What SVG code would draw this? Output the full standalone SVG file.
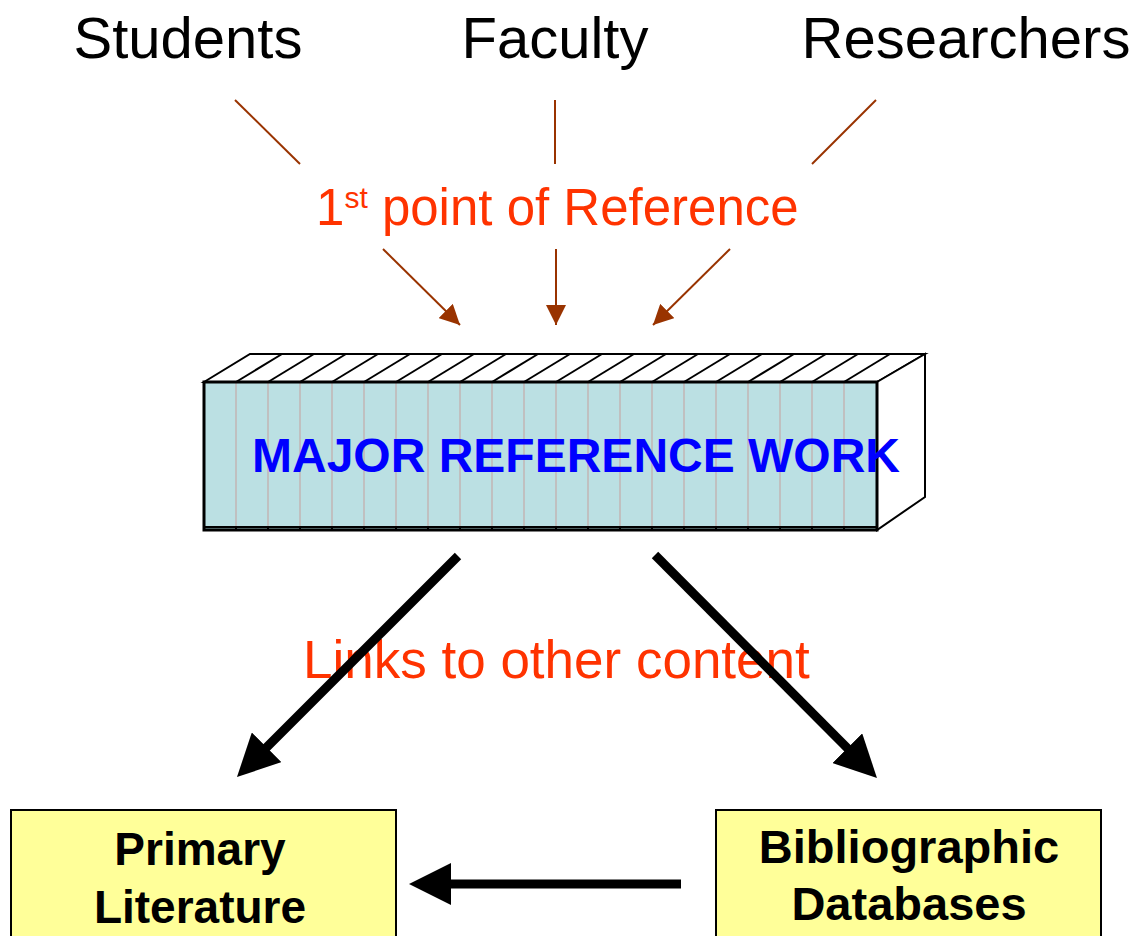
<svg xmlns="http://www.w3.org/2000/svg" width="1134" height="936" viewBox="0 0 1134 936">
<style>
.top{font-family:"Liberation Sans",Arial,sans-serif;font-size:58px;fill:#000;text-anchor:middle}
.red{font-family:"Liberation Sans",Arial,sans-serif;fill:#FF3300}
.box{fill:#FFFF99;stroke:#000;stroke-width:2}
.boxt{font-family:"Liberation Sans",Arial,sans-serif;font-weight:bold;fill:#000;text-anchor:middle}
.brown{stroke:#993300;stroke-width:2;fill:none}
.black{stroke:#000;stroke-width:9;fill:none}
.spine{stroke:#C0C0C0;stroke-width:2}
.diag{stroke:#000;stroke-width:2}
</style>
<defs>
<marker id="bh" viewBox="0 0 20 20" refX="20" refY="10" markerWidth="20" markerHeight="20" markerUnits="userSpaceOnUse" orient="auto">
<path d="M0,0 L20,10 L0,20 z" fill="#993300"/>
</marker>
<marker id="kh" viewBox="0 0 42 42" refX="12" refY="21" markerWidth="42" markerHeight="42" markerUnits="userSpaceOnUse" orient="auto">
<path d="M0,0 L42,21 L0,42 z" fill="#000"/>
</marker>
</defs>
<rect width="1134" height="936" fill="#fff"/>

<g id="students"><text class="top" x="188" y="58">Students</text></g>
<g id="faculty"><text class="top" x="555" y="58">Faculty</text></g>
<g id="researchers"><text class="top" x="966" y="58">Researchers</text></g>

<g id="first-point">
<text class="red" x="316" y="225" font-size="51">1<tspan font-size="30" dy="-17">st</tspan><tspan dy="17"> point of Reference</tspan></text>
</g>

<g id="major-reference-work">
<polygon points="204,382 250,354 925,354 877,382" fill="#fff" stroke="#000" stroke-width="2"/>
<polygon points="877,382 925,354 925,497 877,530" fill="#fff" stroke="#000" stroke-width="2"/>
<rect x="204" y="382" width="673" height="148" fill="#BBE0E3"/>
<rect x="204" y="527" width="673" height="3" fill="#8FB5B8"/>
<g class="spine">
<line x1="236" y1="382" x2="236" y2="527"/><line x1="268" y1="382" x2="268" y2="527"/><line x1="300" y1="382" x2="300" y2="527"/><line x1="332" y1="382" x2="332" y2="527"/><line x1="364" y1="382" x2="364" y2="527"/><line x1="396" y1="382" x2="396" y2="527"/><line x1="428" y1="382" x2="428" y2="527"/><line x1="460" y1="382" x2="460" y2="527"/><line x1="492" y1="382" x2="492" y2="527"/><line x1="524" y1="382" x2="524" y2="527"/><line x1="556" y1="382" x2="556" y2="527"/><line x1="588" y1="382" x2="588" y2="527"/><line x1="620" y1="382" x2="620" y2="527"/><line x1="652" y1="382" x2="652" y2="527"/><line x1="684" y1="382" x2="684" y2="527"/><line x1="716" y1="382" x2="716" y2="527"/><line x1="748" y1="382" x2="748" y2="527"/><line x1="780" y1="382" x2="780" y2="527"/><line x1="812" y1="382" x2="812" y2="527"/><line x1="844" y1="382" x2="844" y2="527"/>
</g>
<g class="diag">
<line x1="236" y1="382" x2="282" y2="354"/><line x1="268" y1="382" x2="314" y2="354"/><line x1="300" y1="382" x2="346" y2="354"/><line x1="332" y1="382" x2="378" y2="354"/><line x1="364" y1="382" x2="410" y2="354"/><line x1="396" y1="382" x2="442" y2="354"/><line x1="428" y1="382" x2="474" y2="354"/><line x1="460" y1="382" x2="506" y2="354"/><line x1="492" y1="382" x2="538" y2="354"/><line x1="524" y1="382" x2="570" y2="354"/><line x1="556" y1="382" x2="602" y2="354"/><line x1="588" y1="382" x2="634" y2="354"/><line x1="620" y1="382" x2="666" y2="354"/><line x1="652" y1="382" x2="698" y2="354"/><line x1="684" y1="382" x2="730" y2="354"/><line x1="716" y1="382" x2="762" y2="354"/><line x1="748" y1="382" x2="794" y2="354"/><line x1="780" y1="382" x2="826" y2="354"/><line x1="812" y1="382" x2="858" y2="354"/><line x1="844" y1="382" x2="890" y2="354"/>
</g>
<g stroke="#000" stroke-width="2">
<line x1="236" y1="527" x2="236" y2="530"/><line x1="268" y1="527" x2="268" y2="530"/><line x1="300" y1="527" x2="300" y2="530"/><line x1="332" y1="527" x2="332" y2="530"/><line x1="364" y1="527" x2="364" y2="530"/><line x1="396" y1="527" x2="396" y2="530"/><line x1="428" y1="527" x2="428" y2="530"/><line x1="460" y1="527" x2="460" y2="530"/><line x1="492" y1="527" x2="492" y2="530"/><line x1="524" y1="527" x2="524" y2="530"/><line x1="556" y1="527" x2="556" y2="530"/><line x1="588" y1="527" x2="588" y2="530"/><line x1="620" y1="527" x2="620" y2="530"/><line x1="652" y1="527" x2="652" y2="530"/><line x1="684" y1="527" x2="684" y2="530"/><line x1="716" y1="527" x2="716" y2="530"/><line x1="748" y1="527" x2="748" y2="530"/><line x1="780" y1="527" x2="780" y2="530"/><line x1="812" y1="527" x2="812" y2="530"/><line x1="844" y1="527" x2="844" y2="530"/>
</g>
<line x1="204" y1="527" x2="877" y2="527" stroke="#000" stroke-width="2"/>
<rect x="204" y="382" width="673" height="148" fill="none" stroke="#000" stroke-width="3"/>
<text x="252" y="472" font-family="Liberation Sans, Arial, sans-serif" font-weight="bold" font-size="48" fill="#0000FF">MAJOR REFERENCE WORK</text>
</g>

<g id="links-label">
<text class="red" x="303" y="678" font-size="53">Links to other content</text>
</g>

<g id="primary-literature">
<rect class="box" x="11" y="810" width="385" height="140"/>
<text class="boxt" x="200" y="865" font-size="46">Primary</text>
<text class="boxt" x="200" y="923" font-size="46">Literature</text>
</g>

<g id="bibliographic-databases">
<rect class="box" x="716" y="810" width="385" height="140"/>
<text class="boxt" x="909" y="863" font-size="47">Bibliographic</text>
<text class="boxt" x="909" y="920" font-size="47">Databases</text>
</g>

<g id="connectors">
<line class="brown" x1="235" y1="100" x2="300" y2="164"/>
<line class="brown" x1="555" y1="100" x2="555" y2="164"/>
<line class="brown" x1="876" y1="100" x2="812" y2="164"/>
<line class="brown" x1="383" y1="249" x2="460" y2="325" marker-end="url(#bh)"/>
<line class="brown" x1="556" y1="249" x2="556" y2="325" marker-end="url(#bh)"/>
<line class="brown" x1="730" y1="249" x2="653" y2="325" marker-end="url(#bh)"/>
<line class="black" x1="458" y1="556" x2="258.2" y2="755.8" marker-end="url(#kh)"/>
<line class="black" x1="655" y1="555" x2="855.8" y2="756.7" marker-end="url(#kh)"/>
<line class="black" x1="681" y1="884" x2="439" y2="884" marker-end="url(#kh)"/>
</g>
</svg>
